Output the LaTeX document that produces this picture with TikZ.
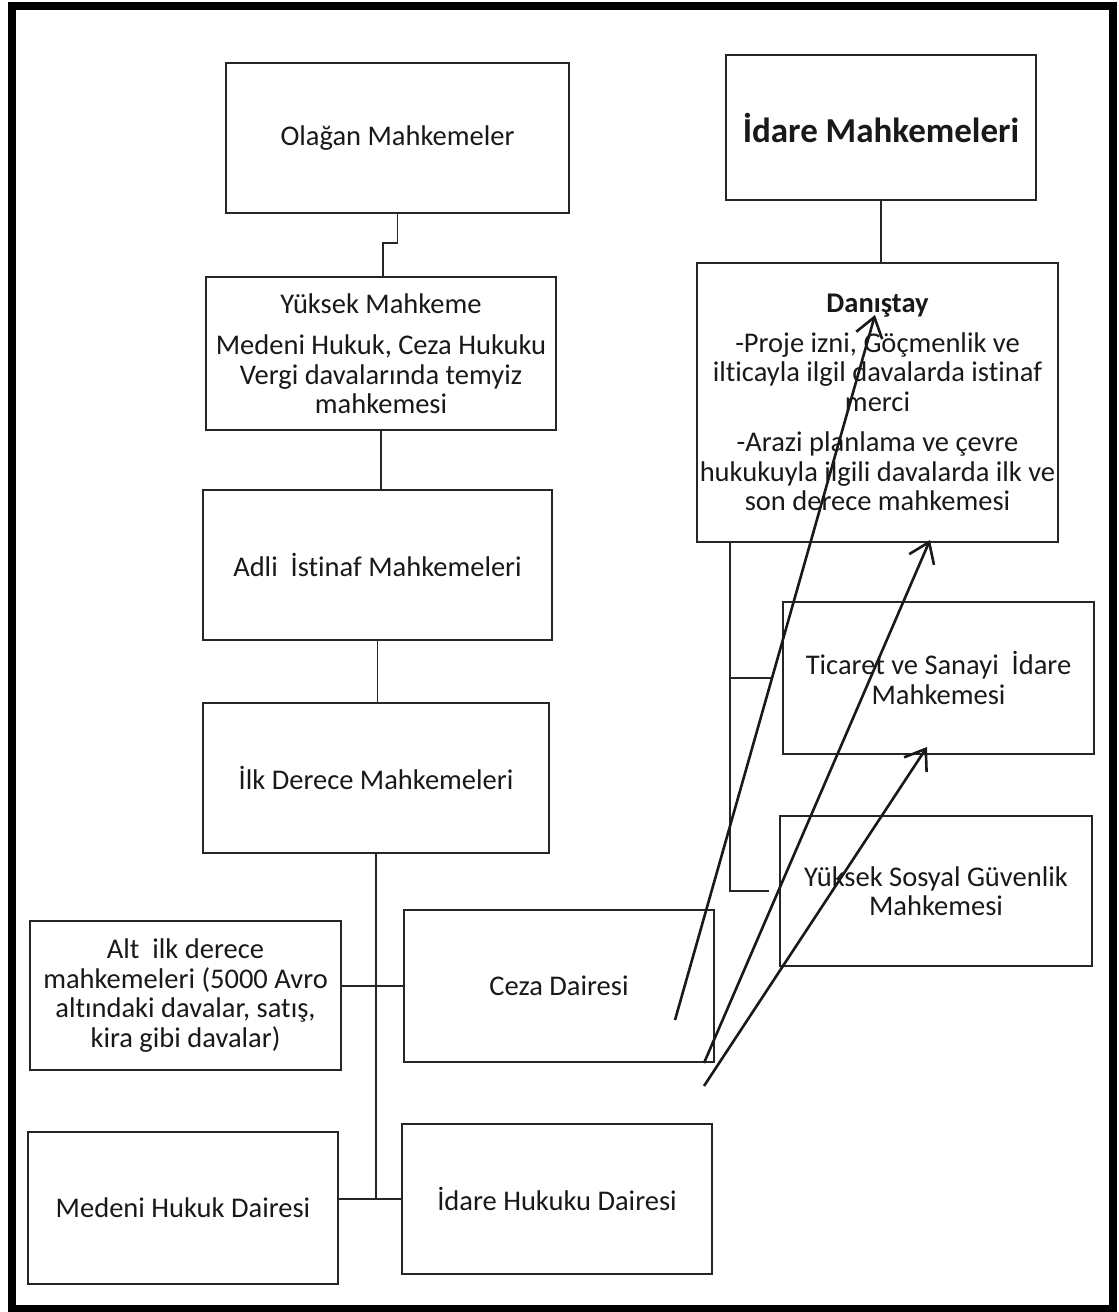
\documentclass[tikz,border=0pt]{standalone}
\usepackage{fontspec}
\setmainfont{Carlito}[Ligatures=NoCommon]
\usetikzlibrary{arrows.meta,calc}

\begin{document}
\begin{tikzpicture}[x=1pt,y=-1pt,
  box/.style={draw=black!85, line width=2.2pt, inner sep=0pt, align=center,
    text=black!90, font=\fontsize{28.5}{29.5}\selectfont},
  conn/.style={draw=black!85, line width=1.7pt},
  arr/.style={draw=black!90, line width=2.6pt,
    -{Straight Barb[length=19pt,width=27pt]}}]

% page and frame
\fill[white] (0,0) rectangle (1119,1312);
\useasboundingbox (0,0) rectangle (1119,1312);
\draw[line width=8pt] (12,6) rectangle (1113,1309);

% left column: ordinary courts
\node[box, minimum width=343pt, minimum height=150pt] (ola) at (397.5,138) {Olağan Mahkemeler};
\node[box, minimum width=350pt, minimum height=153pt] (ym) at (381,353.5)
  {Yüksek Mahkeme\\[12pt]Medeni Hukuk, Ceza Hukuku\\Vergi davalarında temyiz\\mahkemesi};
\node[box, minimum width=349pt, minimum height=150pt] (adli) at (377.5,565) {Adli\ \ İstinaf Mahkemeleri};
\node[box, minimum width=346pt, minimum height=150pt] (ilk) at (376,778) {İlk Derece Mahkemeleri};

\node[box, minimum width=311pt, minimum height=149pt] (alt) at (185.5,995.5)
  {Alt\ \ ilk derece\\mahkemeleri (5000 Avro\\altındaki davalar, satış,\\kira gibi davalar)};
\node[box, minimum width=310pt, minimum height=152pt] (ceza) at (559,986) {Ceza Dairesi};
\node[box, minimum width=310pt, minimum height=152pt] (med) at (183,1208) {Medeni Hukuk Dairesi};
\node[box, minimum width=310pt, minimum height=150pt] (idh) at (557,1199) {İdare Hukuku Dairesi};

% right column: administrative courts
\node[box, minimum width=310pt, minimum height=145pt, font=\fontsize{35}{40}\selectfont\bfseries]
  (im) at (881,127.5) {İdare Mahkemeleri};
\node[box, minimum width=361pt, minimum height=279pt] (dan) at (877.5,402.5)
  {\textbf{Danıştay}\\[10pt]-Proje izni, Göçmenlik ve\\ilticayla ilgil davalarda istinaf\\merci\\[11pt]-Arazi planlama ve çevre\\hukukuyla ilgili davalarda ilk ve\\son derece mahkemesi};
\node[box, minimum width=311pt, minimum height=152pt] (tic) at (938.5,678)
  {Ticaret ve Sanayi\ \ İdare\\Mahkemesi};
\node[box, minimum width=312pt, minimum height=150pt] (sos) at (936,891)
  {Yüksek Sosyal Güvenlik\\Mahkemesi};

% connectors, left tree
\coordinate (jog) at (383,243);
\draw[conn] (ola.south) -- (ola.south |- jog) -- (jog) -- (jog |- ym.north);
\draw[conn] (ym.south) -- (ym.south |- adli.north);
\draw[conn] (adli.south) -- (adli.south |- ilk.north);
\draw[conn] (ilk.south) -- (ilk.south |- idh.west);
\draw[conn] (ceza.west) -- (ceza.west -| alt.east);
\draw[conn] (idh.west) -- (idh.west -| med.east);

% connectors, right tree
\draw[conn] (im.south) -- (im.south |- dan.north);
\coordinate (brk) at (730,0);
\draw[conn] (brk |- dan.south) -- (brk |- sos.west) -- ($(sos.west)+(-10,0)$);
\draw[conn] (brk |- tic.west) -- ($(tic.west)+(-11,0)$);

% hand-drawn arrows
\coordinate (s1) at (675,1020);
\coordinate (s2) at (704,1063);
\coordinate (s3) at (704,1086);
\coordinate (e1) at (875,315);
\coordinate (e2) at (930,540);
\coordinate (e3) at (927,747);
\draw[arr] (s1) -- (e1);
\draw[arr] (s2) -- (e2);
\draw[arr] (s3) -- (e3);
\end{tikzpicture}
\end{document}
